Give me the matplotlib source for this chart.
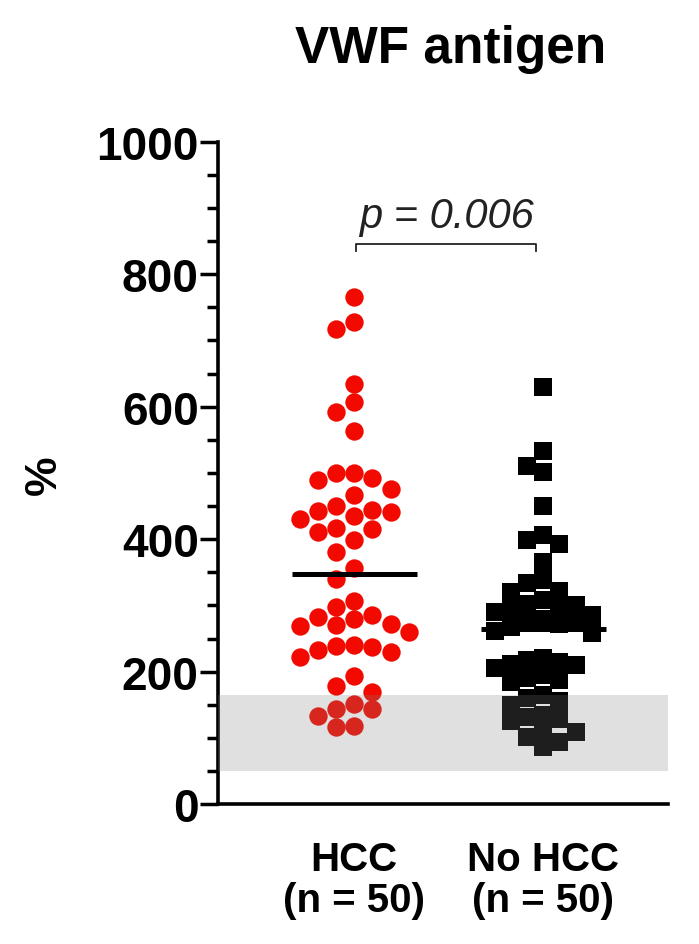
import numpy as np
import matplotlib
matplotlib.use('Agg')
from matplotlib import pyplot as plt

plt.rcParams['font.family'] = ['Liberation Sans', 'DejaVu Sans']

GROUPS = ['HCC\n(n = 50)', 'No HCC\n(n = 50)']

HCC_VALUES = [
    766, 728, 717, 634, 607, 592, 563,
    500, 492, 490, 500,
    476, 467, 450, 435, 441, 443, 431, 444,
    411, 417, 399, 415,
    380, 356, 340,
    307, 298, 286, 279, 272, 269, 270, 260, 282,
    237, 240, 222, 233, 229, 239,
    194, 179, 170,
    143, 133, 151, 143, 116, 118,
]

NO_HCC_VALUES = [
    630, 533, 511, 502, 450, 406, 399, 393, 366,
    338, 334, 322, 320, 308, 302, 301, 298, 295, 290, 285, 280, 278, 275, 272, 268,
    262, 258, 220, 218, 215, 212, 210, 205, 195, 190, 188, 185, 165, 160, 155,
    150, 135, 131, 128, 125, 110, 109, 101, 94, 86,
]

NORMAL_RANGE = (50, 165)
P_TEXT = 'p = 0.006'
BRACKET_Y = 846


def swarm_offsets(values, col_step, min_gap, max_cols):
    # grid beeswarm: largest first, nearest free column to the centre
    order = np.argsort(values)[::-1]
    placed = {}
    offsets = np.zeros(len(values))
    cands = [0]
    for k in range(1, max_cols + 1):
        cands += [-k, k]
    for idx in order:
        v = values[idx]
        best, best_gap = None, -1
        for c in cands:
            gaps = [abs(v - w) for w in placed.get(c, [])]
            g = min(gaps) if gaps else np.inf
            if g >= min_gap:
                best = c
                break
            if g > best_gap:
                best, best_gap = c, g
        placed.setdefault(best, []).append(v)
        offsets[idx] = best * col_step
    return offsets


def main():
    fig = plt.figure(figsize=(6.99, 9.45), dpi=100)
    ax = fig.add_axes([0.312, 0.148, 0.644, 0.701])

    hcc = np.array(HCC_VALUES, dtype=float)
    nohcc = np.array(NO_HCC_VALUES, dtype=float)

    x1 = 1 + swarm_offsets(hcc, 0.096, 27, 3)
    x2 = 2 + swarm_offsets(nohcc, 0.085, 24, 4)

    ax.scatter(x1, hcc, s=175, marker='o', color='#f20a00', linewidths=0, zorder=2)
    ax.scatter(x2, nohcc, s=150, marker='s', color='black', linewidths=0, zorder=2)

    for x, vals in [(1, hcc), (2, nohcc)]:
        ax.plot([x - 0.33, x + 0.33], [np.median(vals)] * 2, color='black', lw=3.6,
                solid_capstyle='butt', zorder=3)

    ax.axhspan(*NORMAL_RANGE, color=(0.5, 0.5, 0.5), alpha=0.24, lw=0, zorder=4)

    # significance bracket
    ax.plot([1.01, 1.01, 1.96, 1.96], [BRACKET_Y - 11, BRACKET_Y, BRACKET_Y, BRACKET_Y - 11],
            color='#222222', lw=1.3, zorder=3, clip_on=False)
    ax.text(1.485, BRACKET_Y + 12, P_TEXT, ha='center', va='bottom', fontsize=30,
            style='italic', color='#222222')

    ax.set_xlim(0.28, 2.66)
    ax.set_ylim(0, 1000)
    ax.set_yticks(np.arange(0, 1001, 200))
    ax.set_yticks(np.arange(0, 1001, 50), minor=True)
    ax.set_xticks([1, 2])
    ax.set_xticklabels(GROUPS, fontsize=29, fontweight='bold', linespacing=1.1)
    ax.tick_params(axis='x', length=0, pad=26)
    ax.tick_params(axis='y', which='major', length=13, width=2.5, labelsize=33, pad=1)
    ax.tick_params(axis='y', which='minor', length=8, width=2.5)
    for lab in ax.get_yticklabels():
        lab.set_fontweight('bold')

    for side in ['top', 'right']:
        ax.spines[side].set_visible(False)
    for side in ['left', 'bottom']:
        ax.spines[side].set_linewidth(2.6)

    fig.text(0.064, 0.497, '%', rotation=90, ha='center', va='center',
             fontsize=32, fontweight='bold')
    fig.text(0.644, 0.948, 'VWF antigen', ha='center', va='center',
             fontsize=37, fontweight='bold')

    fig.savefig('out.png', dpi=100)
    plt.close('all')


if __name__ == '__main__':
    main()
